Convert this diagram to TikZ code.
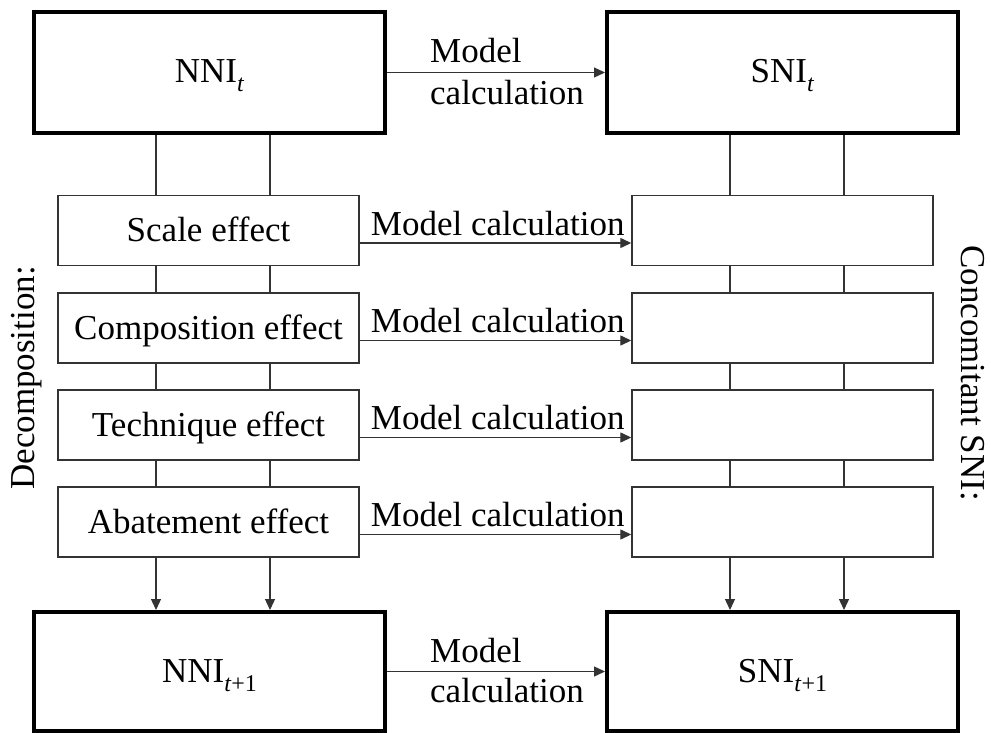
\documentclass[tikz,border=0pt]{standalone}
\usepackage{fontspec}
\setmainfont{Liberation Serif}
\usetikzlibrary{arrows.meta}
\newcommand{\mysub}[1]{\raisebox{-9pt}{\fontsize{24}{24}\selectfont #1}}
\begin{document}
\begin{tikzpicture}[x=1pt,y=-1pt,
  every node/.style={font=\fontsize{35}{40}\selectfont, inner sep=0pt},
  bigbox/.style={draw=black, line width=4pt, minimum width=351pt, minimum height=121pt, text height=21pt, text depth=0pt},
  effbox/.style={draw=black!80, line width=1.4pt, minimum width=301pt, minimum height=70pt, text height=22pt, text depth=0pt},
  thin/.style={draw=black!80, line width=1.3pt},
  arr/.style={thin, -{Triangle[length=11pt,width=10pt]}},
  lbl/.style={anchor=base west}
]
\useasboundingbox (0,0) rectangle (991,733);
% big boxes
\node[bigbox] (nni) at (209.5,72.5) {NNI\mysub{\textit{t}}};
\node[bigbox] (sni) at (782.5,72.5) {SNI\mysub{\textit{t}}};
\node[bigbox, minimum height=119pt] (nni1) at (209.5,671.5) {NNI\mysub{\textit{t}+1}};
\node[bigbox, minimum height=119pt] (sni1) at (782.5,671.5) {SNI\mysub{\textit{t}+1}};
% effect boxes
\node[effbox] (sc) at (208.5,230.5) {Scale effect};
\node[effbox] (co) at (208.5,328) {Composition effect};
\node[effbox] (te) at (208.5,425) {Technique effect};
\node[effbox] (ab) at (208.5,522) {Abatement effect};
\node[effbox] (scR) at (782.5,230.5) {};
\node[effbox] (coR) at (782.5,328) {};
\node[effbox] (teR) at (782.5,425) {};
\node[effbox] (abR) at (782.5,522) {};
% column coordinates
\coordinate (L1) at (156,0);
\coordinate (L2) at (270,0);
\coordinate (R1) at (730,0);
\coordinate (R2) at (844,0);
% vertical connectors
\foreach \c in {L1,L2}{
  \draw[thin] (\c |- nni.south) -- (\c |- sc.north);
  \draw[thin] (\c |- sc.south) -- (\c |- co.north);
  \draw[thin] (\c |- co.south) -- (\c |- te.north);
  \draw[thin] (\c |- te.south) -- (\c |- ab.north);
  \draw[arr] (\c |- ab.south) -- (\c |- nni1.north);
}
\foreach \c in {R1,R2}{
  \draw[thin] (\c |- sni.south) -- (\c |- scR.north);
  \draw[thin] (\c |- scR.south) -- (\c |- coR.north);
  \draw[thin] (\c |- coR.south) -- (\c |- teR.north);
  \draw[thin] (\c |- teR.south) -- (\c |- abR.north);
  \draw[arr] (\c |- abR.south) -- (\c |- sni1.north);
}
% horizontal arrows
\draw[arr] (nni.east) -- (sni.west);
\draw[arr] (nni1.east) -- (sni1.west);
\foreach \a/\b in {sc/scR,co/coR,te/teR,ab/abR}{
  \draw[arr] ([yshift=-12.5pt]\a.east) -- ([yshift=-12.5pt]\b.west);
  \node[lbl] (m\a) at ([xshift=11pt,yshift=-4.5pt]\a.east) {Model calculation};
}
% top/bottom labels
\node[lbl] (t1) at (430,63) {Model};
\node[lbl] (t2) at (430,105) {calculation};
\node[lbl] (b1) at (430,662) {Model};
\node[lbl] (b2) at (430,702) {calculation};
% side labels
\node[rotate=90] (dec) at (27,378) {Decomposition:};
\node[rotate=-90] (con) at (973,373) {Concomitant SNI:};
\end{tikzpicture}
\end{document}
